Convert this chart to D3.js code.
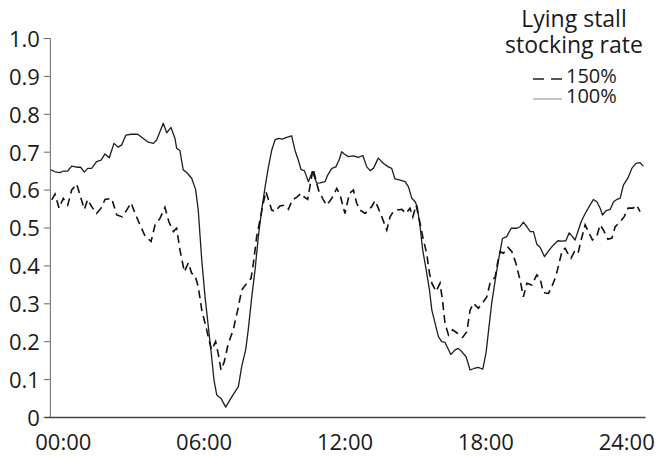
<!DOCTYPE html>
<html>
<head>
<meta charset="utf-8">
<script src="https://cdn.jsdelivr.net/npm/d3@7"></script>
<style>
  html, body { margin: 0; padding: 0; background: #fff; }
  svg { display: block; }
  text { font-family: "Open Sans", "Noto Sans", sans-serif; fill: #1a1a1a; }
</style>
</head>
<body>
<svg id="chart" width="663" height="457"></svg>
<script>
// ---- data (hours of day, proportion of cows lying) ----
const xTicks = [0, 6, 12, 18, 24];
const yTicks = [0, 0.1, 0.2, 0.3, 0.4, 0.5, 0.6, 0.7, 0.8, 0.9, 1.0];
const legendTitle = ["Lying stall", "stocking rate"];
const seriesNames = ["150%", "100%"];

const hours100 = [-0.50,-0.33,-0.12,0.02,0.21,0.38,0.59,0.76,0.92,1.06,1.23,1.44,1.63,1.80,1.98,2.18,2.36,2.51,2.69,2.91,3.19,3.43,3.64,3.86,4.00,4.28,4.43,4.61,4.78,4.85,4.99,5.13,5.28,5.49,5.66,5.77,5.92,6.06,6.20,6.34,6.44,6.56,6.74,6.94,7.12,7.34,7.48,7.62,7.79,7.90,8.05,8.19,8.33,8.47,8.62,8.76,8.90,9.04,9.18,9.35,9.54,9.75,9.89,10.03,10.15,10.29,10.46,10.63,10.82,10.96,11.17,11.29,11.46,11.63,11.77,11.88,11.99,12.16,12.38,12.59,12.78,12.95,13.09,13.23,13.44,13.66,13.87,14.01,14.15,14.37,14.58,14.72,14.87,15.01,15.10,15.22,15.33,15.48,15.62,15.72,15.86,16.00,16.14,16.28,16.38,16.53,16.71,16.85,17.00,17.18,17.35,17.52,17.70,17.89,18.03,18.14,18.27,18.42,18.56,18.73,18.91,19.10,19.34,19.48,19.62,19.77,19.91,20.05,20.19,20.33,20.52,20.69,20.90,21.09,21.26,21.43,21.57,21.71,21.82,21.94,22.08,22.22,22.42,22.60,22.75,22.89,22.99,23.13,23.32,23.46,23.60,23.74,23.88,24.07,24.24,24.41,24.59,24.73];
const lying100 = [0.652,0.647,0.645,0.649,0.649,0.662,0.659,0.659,0.646,0.656,0.656,0.674,0.678,0.694,0.684,0.722,0.712,0.718,0.744,0.746,0.746,0.735,0.725,0.722,0.731,0.775,0.750,0.764,0.735,0.709,0.703,0.652,0.645,0.630,0.600,0.546,0.414,0.317,0.238,0.159,0.098,0.058,0.049,0.026,0.045,0.067,0.080,0.133,0.177,0.230,0.317,0.388,0.476,0.546,0.608,0.660,0.704,0.731,0.735,0.733,0.738,0.742,0.704,0.678,0.653,0.650,0.621,0.647,0.617,0.618,0.621,0.639,0.656,0.660,0.678,0.700,0.694,0.687,0.689,0.685,0.690,0.660,0.650,0.656,0.683,0.669,0.660,0.656,0.628,0.625,0.621,0.608,0.577,0.568,0.555,0.502,0.441,0.388,0.335,0.282,0.247,0.212,0.199,0.197,0.184,0.165,0.177,0.181,0.172,0.159,0.124,0.128,0.131,0.126,0.170,0.230,0.300,0.361,0.414,0.471,0.476,0.498,0.498,0.502,0.514,0.502,0.489,0.489,0.456,0.448,0.423,0.438,0.454,0.465,0.464,0.465,0.486,0.476,0.467,0.489,0.515,0.533,0.555,0.574,0.568,0.551,0.533,0.544,0.548,0.568,0.574,0.577,0.612,0.630,0.656,0.669,0.671,0.662];

const hours150 = [-0.47,-0.33,-0.16,0.02,0.21,0.38,0.59,0.73,0.92,1.06,1.23,1.44,1.63,1.80,2.08,2.30,2.54,2.72,2.91,3.08,3.29,3.50,3.76,3.93,4.14,4.35,4.52,4.71,4.85,4.99,5.18,5.35,5.49,5.63,5.77,5.92,6.13,6.23,6.34,6.51,6.63,6.74,6.88,7.05,7.26,7.45,7.62,7.84,8.02,8.12,8.26,8.40,8.54,8.65,8.79,8.90,9.04,9.25,9.44,9.61,9.78,9.97,10.15,10.29,10.43,10.66,10.89,11.10,11.24,11.46,11.67,11.81,12.02,12.21,12.38,12.52,12.66,12.88,13.16,13.30,13.44,13.59,13.80,13.94,14.08,14.25,14.44,14.62,14.79,14.91,15.05,15.22,15.36,15.50,15.62,15.72,15.90,16.07,16.19,16.28,16.43,16.61,16.81,17.03,17.21,17.35,17.49,17.70,17.89,18.06,18.20,18.42,18.53,18.63,18.77,18.96,19.13,19.30,19.48,19.62,19.77,19.98,20.19,20.33,20.47,20.69,20.83,21.00,21.14,21.28,21.40,21.51,21.65,21.79,21.94,22.08,22.25,22.39,22.56,22.75,22.89,23.03,23.22,23.39,23.53,23.74,23.91,24.08,24.29,24.44,24.59];
const lying150 = [0.573,0.588,0.551,0.577,0.559,0.599,0.615,0.586,0.548,0.574,0.555,0.537,0.551,0.574,0.577,0.533,0.528,0.546,0.565,0.537,0.507,0.478,0.463,0.507,0.524,0.553,0.515,0.489,0.498,0.441,0.383,0.407,0.379,0.375,0.344,0.282,0.230,0.203,0.177,0.199,0.164,0.124,0.146,0.194,0.230,0.282,0.335,0.353,0.366,0.406,0.476,0.520,0.564,0.595,0.568,0.546,0.542,0.557,0.559,0.548,0.573,0.580,0.590,0.580,0.574,0.655,0.599,0.573,0.559,0.577,0.603,0.586,0.537,0.590,0.599,0.564,0.546,0.537,0.555,0.571,0.551,0.528,0.493,0.528,0.542,0.546,0.548,0.537,0.551,0.528,0.559,0.511,0.467,0.432,0.379,0.353,0.331,0.353,0.300,0.247,0.216,0.230,0.221,0.210,0.225,0.282,0.300,0.287,0.302,0.317,0.353,0.370,0.410,0.436,0.432,0.448,0.436,0.406,0.361,0.317,0.353,0.348,0.375,0.366,0.328,0.326,0.344,0.370,0.406,0.441,0.445,0.432,0.419,0.436,0.430,0.467,0.507,0.489,0.467,0.478,0.507,0.493,0.469,0.472,0.502,0.515,0.528,0.551,0.551,0.559,0.542];

// ---- chart ----
const svg = d3.select("#chart");
const x = d3.scaleLinear().domain([-0.8, 24.8]).range([44, 645]);
const y = d3.scaleLinear().domain([0, 1]).range([417, 38]);

// y axis
const yAxis = svg.append("g")
  .attr("transform", `translate(${x(-0.55)},0)`)
  .call(d3.axisLeft(y).tickValues(yTicks).tickSize(6).tickPadding(4)
    .tickFormat(d => d === 0 ? "0" : d3.format(".1f")(d)));
yAxis.select(".domain").attr("stroke", "#666").attr("stroke-width", 1);
yAxis.selectAll(".tick line").attr("stroke", "#666").attr("stroke-width", 1);
yAxis.selectAll("text").attr("font-size", 22).attr("dy", "0.38em")
  .style("font-family", '"Open Sans", sans-serif').attr("fill", "#1a1a1a");

// x axis
const xAxis = svg.append("g")
  .attr("transform", `translate(0,${y(0)})`)
  .call(d3.axisBottom(x).tickValues(xTicks).tickSize(0).tickSizeOuter(0).tickPadding(17)
    .tickFormat(d => d3.format("02d")(d) + ":00"));
xAxis.select(".domain").attr("stroke", "#444").attr("stroke-width", 1.5);
xAxis.selectAll("text").attr("font-size", 22)
  .style("font-family", '"Open Sans", sans-serif').attr("fill", "#1a1a1a");

// lines
const line = d3.line().x(d => x(d[0])).y(d => y(d[1]));
const data100 = hours100.map((h, i) => [h, lying100[i]]);
const data150 = hours150.map((h, i) => [h, lying150[i]]);

svg.append("path").datum(data100)
  .attr("d", line).attr("fill", "none")
  .attr("stroke", "#1e1e1e").attr("stroke-width", 1.3).attr("stroke-linejoin", "round");

svg.append("path").datum(data150)
  .attr("d", line).attr("fill", "none")
  .attr("stroke", "#111").attr("stroke-width", 1.6)
  .attr("stroke-dasharray", "8,5");

// legend
const lg = svg.append("g");
lg.selectAll("text.title").data(legendTitle).enter().append("text")
  .attr("class", "title")
  .attr("x", 574).attr("y", (d, i) => 27 + i * 26)
  .attr("text-anchor", "middle").attr("font-size", 23).text(d => d);

const items = lg.selectAll("g.item").data(seriesNames).enter().append("g")
  .attr("class", "item")
  .attr("transform", (d, i) => `translate(0,${83 + i * 20})`);
items.append("line")
  .attr("x1", 533).attr("x2", 562).attr("y1", -4).attr("y2", -4)
  .attr("stroke", (d, i) => i === 0 ? "#222" : "#888")
  .attr("stroke-width", (d, i) => i === 0 ? 1.5 : 1)
  .attr("stroke-dasharray", (d, i) => i === 0 ? "11,7" : null);
items.append("text")
  .attr("x", 566).attr("y", 0).attr("font-size", 20).text(d => d);
</script>
</body>
</html>
